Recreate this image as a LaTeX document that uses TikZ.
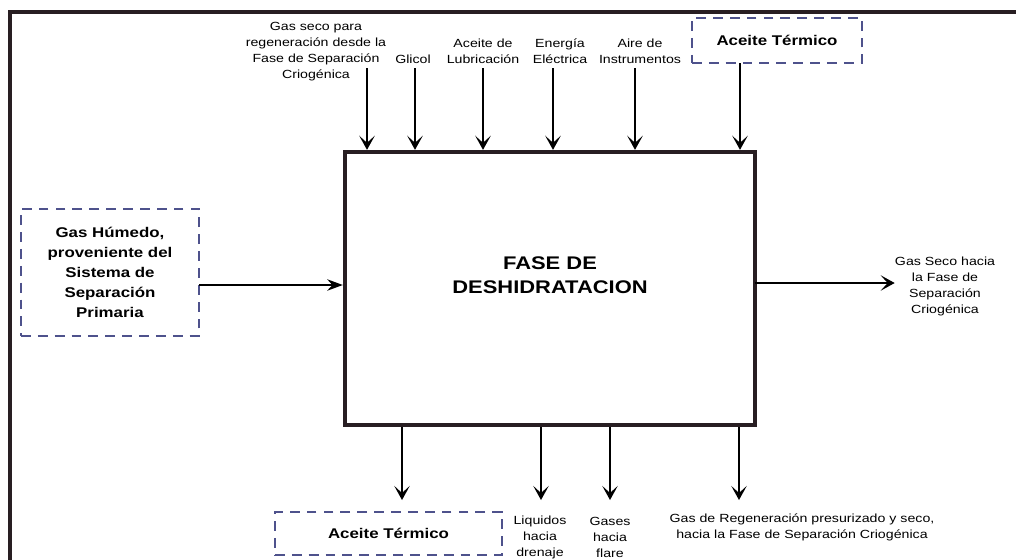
\documentclass[tikz,border=0pt]{standalone}
\usepackage{fontspec}
\setmainfont{Liberation Sans}[FakeStretch=1.2]
\usetikzlibrary{arrows.meta,positioning}
\definecolor{dashblue}{RGB}{78,82,140}
\definecolor{framecol}{RGB}{40,30,34}

\begin{document}
\begin{tikzpicture}[
  x=0.025cm, y=-0.025cm,
  phase/.style={rectangle, draw=framecol, line width=3pt, minimum width=10.25cm, minimum height=6.825cm},
  extbox/.style={rectangle, draw=dashblue, dash pattern=on 7pt off 5pt, line width=1.4pt, align=center, font=\bfseries\fontsize{10}{14.2}\selectfont},
  lbl/.style={align=center, inner sep=0pt, font=\fontsize{8.4}{11.4}\selectfont},
  flow/.style={line width=1.6pt, -{Stealth[length=10pt, width=11pt, inset=5pt]}},
  font=\small
]
\useasboundingbox (0,0) rectangle (1016,559);
\clip (0,0) rectangle (1016,559);

% marco
\draw[framecol, line width=2.8pt] (1020,12) -- (10,12) -- (10,565);

% bloque central
\node[phase] (fase) at (550,288.5) {};
\node[font=\bfseries\fontsize{13}{17}\selectfont, align=center] (titulo) at (550,275) {FASE DE\\DESHIDRATACION};

% entradas superiores
\node[lbl] (gasreg) at (316,52) {Gas seco para\\regeneración desde la\\Fase de Separación\\Criogénica};
\node[lbl] (glicol) at (413,59) {Glicol};
\node[lbl] (aceitelub) at (483,51) {Aceite de\\Lubricación};
\node[lbl] (energia) at (560,51) {Energía\\Eléctrica};
\node[lbl] (aire) at (640,51) {Aire de\\Instrumentos};
\node[extbox, minimum width=4.25cm, minimum height=1.125cm] (termsup) at (777,40.5) {Aceite Térmico};

\coordinate (e1) at (367,68);
\coordinate (e2) at (415,68);
\coordinate (e3) at (483,68);
\coordinate (e4) at (553,68);
\coordinate (e5) at (635,68);
\coordinate (e6) at (740,63);
\foreach \c in {e1,e2,e3,e4,e5,e6}
  \draw[flow] (\c) -- (\c |- fase.north);

% entrada lateral
\node[extbox, minimum width=4.45cm, minimum height=3.175cm] (gashum) at (110,272.5) {Gas Húmedo,\\proveniente del\\Sistema de\\Separación\\Primaria};
\coordinate (entra) at (199,285);
\draw[line width=2pt, -{Stealth[length=11pt, width=8pt]}] (entra) -- (entra -| fase.west);

% salida lateral
\coordinate (sale) at (755,283);
\node[lbl] (gasseco) at (945,286.5) {Gas Seco hacia\\la Fase de\\Separación\\Criogénica};
\draw[flow] (sale) -- (gasseco.west |- sale);

% salidas inferiores
\coordinate (s1) at (402,500);
\coordinate (s2) at (541,500);
\coordinate (s3) at (610,500);
\coordinate (s4) at (739,500);
\foreach \c in {s1,s2,s3,s4}
  \draw[flow] (\c |- fase.south) -- (\c);

\node[extbox, minimum width=5.675cm, minimum height=1.075cm] (termsal) at (388.5,533.5) {Aceite Térmico};
\node[lbl] (liquidos) at (540,537) {Liquidos\\hacia\\drenaje};
\node[lbl] (gases) at (610,537) {Gases\\hacia\\flare};
\node[lbl] (gasregsal) at (802,527.5) {Gas de Regeneración presurizado y seco,\\hacia la Fase de Separación Criogénica};
\end{tikzpicture}
\end{document}
